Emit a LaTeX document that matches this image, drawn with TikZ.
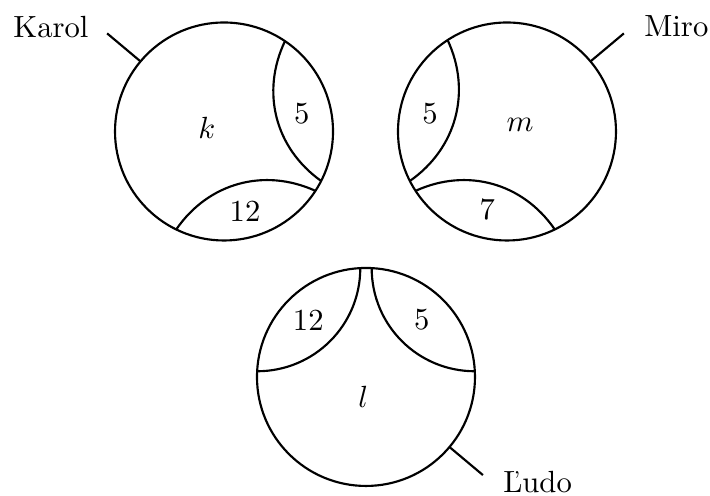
\documentclass[tikz,border=0pt]{standalone}
\tikzset{every picture/.style={line width=0.7pt}}
\tikzset{
  ring/.style={draw, circle, minimum size=2.5cm, inner sep=0pt, outer sep=0pt}
}

\begin{document}
\begin{tikzpicture}
\useasboundingbox (0,0) rectangle (8.142,5.688);

% Circles
\node[ring] (K) at (2.569,4.180) {};
\node[ring] (M) at (5.814,4.180) {};
\node[ring] (L) at (4.197,1.365) {};

% Arcs inside the circles
\draw (K.56.8) to[bend right=40] (K.-27.2);
\draw (K.-116.6) to[bend left=40] (K.-33);
\draw (M.123.2) to[bend left=40] (M.207.2);
\draw (M.213) to[bend left=40] (M.296.6);
\draw (L.93) to[bend left=45] (L.177);
\draw (L.87) to[bend right=45] (L.3);

% Pointers and names
\path (K.center) ++(140:1.75) coordinate (ktip);
\path (M.center) ++(40:1.75) coordinate (mtip);
\path (L.center) ++(-40:1.75) coordinate (ltip);
\draw (K.140) -- (ktip);
\draw (M.40) -- (mtip);
\draw (L.-40) -- (ltip);
\node[anchor=base east, xshift=-2.4pt, yshift=-1.3pt] (karol) at (ktip) {Karol};
\node[anchor=base west, xshift=3pt, yshift=-1.1pt] (miro) at (mtip) {Miro};
\node[anchor=base west, xshift=5.3pt, yshift=-5.8pt, inner sep=1pt] (ludo) at (ltip) {Ľudo};

% Text Node
\node (k) at ([shift={(-0.198,0.037)}]K.center) {$k$};
\node (k5) at ([shift={(0.891,0.209)}]K.center) {5};
\node (k12) at ([shift={(0.241,-0.920)}]K.center) {12};
\node (m) at ([shift={(0.149,0.075)}]M.center) {$m$};
\node (m5) at ([shift={(-0.883,0.209)}]M.center) {5};
\node (m7) at ([shift={(-0.226,-0.900)}]M.center) {7};
\node (l) at ([shift={(-0.031,-0.226)}]L.center) {$l$};
\node (l12) at ([shift={(-0.662,0.654)}]L.center) {12};
\node (l5) at ([shift={(0.639,0.654)}]L.center) {5};

\end{tikzpicture}
\end{document}
